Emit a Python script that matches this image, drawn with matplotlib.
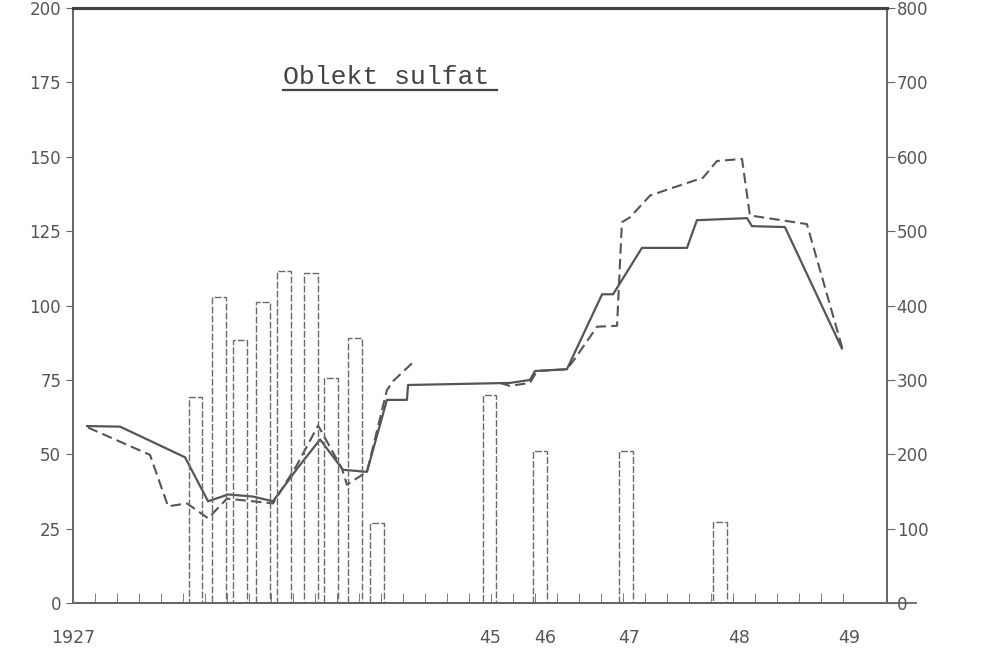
from matplotlib import pyplot as plt

# x in tick units (one tick per step, 1927 at 0)
bar_x = [5.55, 6.64, 7.59, 8.64, 9.59, 10.82, 11.73, 12.82, 13.82, 18.95, 21.23, 25.14, 29.41]
bar_val = [277, 411, 354, 405, 446, 444, 302, 356, 107, 280, 204, 204, 109]

solid_x = [0.64, 2.14, 5.09, 6.14, 7.05, 8.18, 9.09, 10.18, 11.23, 12.27, 13.36,
           14.27, 15.18, 15.23, 19.86, 20.77, 21.0, 22.45, 24.05, 24.55, 25.86,
           27.91, 28.36, 30.64, 30.86, 32.36, 34.95]
solid_y = [59.5, 59.3, 49.0, 34.2, 36.5, 35.8, 34.2, 45.1, 55.0, 44.8, 44.1,
           68.3, 68.3, 73.3, 74.0, 75.0, 78.0, 78.6, 103.8, 103.8, 119.4,
           119.4, 128.7, 129.4, 126.7, 126.4, 85.6]

dash_x = [0.68, 3.5, 4.32, 5.18, 6.14, 7.0, 9.09, 10.18, 11.14, 12.23, 12.45,
          13.36, 14.27, 14.55, 15.55, 17.0,
          19.41, 19.86, 20.77, 21.09, 22.45, 22.82, 23.82, 24.73, 24.95, 25.32,
          26.23, 27.14, 28.64, 29.27, 30.41, 30.77, 33.36, 35.0]
dash_y = [59.0, 49.8, 32.5, 33.5, 28.5, 35.1, 33.5, 46.4, 59.7, 45.1, 39.8,
          44.1, 71.6, 74.6, 81.6, float('nan'),
          74.0, 73.0, 74.0, 78.0, 78.6, 82.2, 92.9, 93.2, 128.0, 129.7,
          137.0, 139.3, 143.0, 148.6, 149.3, 130.3, 127.4, 84.9]

year_pos = [0, 18.95, 21.45, 25.3, 30.3, 35.3]
year_lab = ['1927', '45', '46', '47', '48', '49']

ink = '#555555'
fig = plt.figure(figsize=(9.84, 6.61), dpi=100)
ax = fig.add_axes([0.0742, 0.0877, 0.8272, 0.900])
ax2 = ax.twinx()

ax.set_xlim(0, 37)
ax.set_ylim(0, 200)
ax2.set_ylim(0, 800)

ax2.bar(bar_x, bar_val, width=0.6, fill=False, edgecolor='#6a6a6a',
        linewidth=1.0, linestyle=(0, (5, 1.5)))
ax.plot(solid_x, solid_y, color=ink, linewidth=1.6)
ax.plot(dash_x, dash_y, color=ink, linewidth=1.5, linestyle=(0, (5, 2.5)))

ax.set_yticks(range(0, 201, 25))
ax2.set_yticks(range(0, 801, 100))
ax.set_xticks(year_pos)
ax.set_xticklabels(year_lab)
ax.set_xticks(range(1, 36), minor=True)
ax.tick_params(axis='x', which='major', length=0, pad=19, labelsize=12.5, labelcolor=ink)
ax.tick_params(axis='x', which='minor', direction='in', length=7, color='#666666')
ax.tick_params(axis='y', direction='out', length=5, labelsize=12, labelcolor=ink, color='#666666')
ax2.tick_params(axis='y', direction='out', length=6, labelsize=12, labelcolor=ink, color='#666666', pad=1)

for a in (ax, ax2):
    for s in ('left', 'right', 'bottom'):
        a.spines[s].set_color('#666666')
        a.spines[s].set_linewidth(1.3)
    a.spines['top'].set_color('#444444')
    a.spines['top'].set_linewidth(2.2)

# bottom line runs a bit past the right axis
ax.plot([37, 38.3], [0, 0], color='#666666', linewidth=1.3, clip_on=False)

ax.text(0.258, 0.873, 'Oblekt sulfat', transform=ax.transAxes,
        family='Liberation Mono', fontsize=19, color='#444444')
ax.plot([0.258, 0.521], [0.862, 0.862], transform=ax.transAxes,
        color='#444444', linewidth=1.6)

fig.savefig('out.png', dpi=100)
